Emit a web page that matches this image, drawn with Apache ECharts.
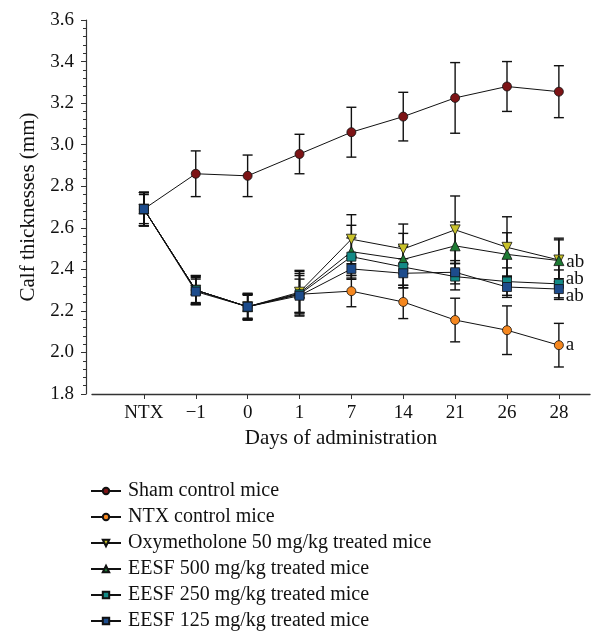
<!DOCTYPE html>
<html>
<head>
<meta charset="utf-8">
<script src="https://cdn.jsdelivr.net/npm/echarts@6/dist/echarts.min.js"></script>
<style>html,body{margin:0;padding:0;background:#fff}#c{width:610px;height:633px}</style>
</head>
<body>
<div id="c"></div>
<script>
const categories = ['NTX', '\u22121', '0', '1', '7', '14', '21', '26', '28'];
const yTicks = [1.8, 2.0, 2.2, 2.4, 2.6, 2.8, 3.0, 3.2, 3.4, 3.6];

const seriesNames = ['Sham control mice', 'NTX control mice', 'Oxymetholone 50 mg/kg treated mice',
  'EESF 500 mg/kg treated mice', 'EESF 250 mg/kg treated mice', 'EESF 125 mg/kg treated mice'];

const sham    = [2.69, 2.86, 2.85, 2.955, 3.06, 3.135, 3.225, 3.28, 3.255];
const shamErr = [0.08, 0.11, 0.10, 0.095, 0.12, 0.117, 0.17, 0.12, 0.125];
const ntx     = [2.69, 2.30, 2.22, 2.28, 2.295, 2.243, 2.156, 2.107, 2.035];
const ntxErr  = [0.08, 0.07, 0.06, 0.09, 0.075, 0.08, 0.105, 0.117, 0.105];
const oxy     = [2.69, 2.30, 2.22, 2.29, 2.545, 2.498, 2.59, 2.506, 2.445];
const oxyErr  = [0.08, 0.07, 0.065, 0.10, 0.118, 0.12, 0.163, 0.147, 0.105];
const e500    = [2.69, 2.30, 2.22, 2.285, 2.485, 2.448, 2.513, 2.472, 2.442];
const e500Err = [0.08, 0.065, 0.06, 0.11, 0.127, 0.125, 0.115, 0.104, 0.10];
const e250    = [2.69, 2.30, 2.22, 2.28, 2.461, 2.411, 2.365, 2.341, 2.33];
const e250Err = [0.08, 0.06, 0.06, 0.10, 0.09, 0.10, 0.064, 0.066, 0.067];
const e125    = [2.69, 2.293, 2.22, 2.273, 2.402, 2.381, 2.386, 2.315, 2.305];
const e125Err = [0.07, 0.06, 0.055, 0.08, 0.05, 0.07, 0.056, 0.05, 0.05];

// significance annotations at the last time point
const annotTexts = ['a', 'ab', 'ab', 'ab'];       // for ntx, e500, e250, e125
const annotSeries = [1, 3, 4, 5];

const values = [sham, ntx, oxy, e500, e250, e125];
const errors = [shamErr, ntxErr, oxyErr, e500Err, e250Err, e125Err];
const colors = ['#7d1416', '#f5871f', '#c9c22b', '#1e7a34', '#138a86', '#1d4c8c'];
const symbols = ['circle', 'circle', 'triangle', 'triangle', 'rect', 'rect'];
const symbolRot = [0, 0, 180, 0, 0, 0];
const symbolSizes = [9, 9, 10, 10, 9, 9];
const annotOffsets = {1: [0, 0], 3: [0, 1], 4: [0, -5], 5: [0, 7]};

const FONT = 'Liberation Serif';
const chart = echarts.init(document.getElementById('c'));

const series = [];
values.forEach((vals, si) => {
  series.push({
    type: 'custom',
    name: 'err' + si,
    z: 2,
    silent: true,
    renderItem: (params, api) => {
      const x = api.value(0);
      const lo = api.coord([x, api.value(1)]);
      const hi = api.coord([x, api.value(2)]);
      const w = 5;
      const st = {stroke: '#111', lineWidth: 1.4};
      return {type: 'group', children: [
        {type: 'line', shape: {x1: lo[0], y1: lo[1], x2: hi[0], y2: hi[1]}, style: st},
        {type: 'line', shape: {x1: lo[0]-w, y1: lo[1], x2: lo[0]+w, y2: lo[1]}, style: st},
        {type: 'line', shape: {x1: hi[0]-w, y1: hi[1], x2: hi[0]+w, y2: hi[1]}, style: st}
      ]};
    },
    data: vals.map((v, i) => [i, v - errors[si][i], v + errors[si][i]])
  });
});
values.forEach((vals, si) => {
  const ai = annotSeries.indexOf(si);
  series.push({
    type: 'line',
    name: seriesNames[si],
    z: 3 + si,
    symbol: symbols[si],
    symbolRotate: symbolRot[si],
    symbolSize: symbolSizes[si],
    lineStyle: {color: '#111', width: 1},
    itemStyle: {color: colors[si], borderColor: '#111', borderWidth: 0.8},
    data: vals.map((v, i) => {
      if (ai >= 0 && i === vals.length - 1) {
        return {value: [i, v], label: {show: true, position: 'right', distance: 2,
          offset: annotOffsets[si], formatter: annotTexts[ai],
          fontFamily: FONT, fontSize: 19, color: '#111'}};
      }
      return [i, v];
    })
  });
});

chart.setOption({
  animation: false,
  backgroundColor: '#fff',
  grid: {left: 92, right: 20, top: 20, bottom: 239},
  xAxis: {
    type: 'value', min: -1, max: 8.6,
    name: 'Days of administration', nameLocation: 'middle', nameGap: 31,
    nameTextStyle: {fontFamily: FONT, fontSize: 21, color: '#111'},
    axisLine: {onZero: false, lineStyle: {color: '#333', width: 1.4}},
    axisTick: {show: true, length: 5, customValues: [0,1,2,3,4,5,6,7,8], lineStyle: {color: '#333'}},
    axisLabel: {customValues: [0,1,2,3,4,5,6,7,8], margin: 10,
      formatter: v => categories[Math.round(v)] || '',
      fontFamily: FONT, fontSize: 19, color: '#111'},
    splitLine: {show: false}
  },
  yAxis: {
    type: 'value', min: yTicks[0], max: yTicks[yTicks.length-1], interval: 0.2,
    offset: 6,
    name: 'Calf thicknesses (mm)', nameLocation: 'middle', nameGap: 36,
    nameTextStyle: {fontFamily: FONT, fontSize: 21, color: '#111'},
    axisLine: {show: true, onZero: false, lineStyle: {color: '#333', width: 1.2}},
    axisTick: {show: true, length: 5, lineStyle: {color: '#333'}},
    minorTick: {show: true, splitNumber: 5, length: 3, lineStyle: {color: '#333'}},
    axisLabel: {margin: 12, formatter: v => v.toFixed(1), fontFamily: FONT, fontSize: 19, color: '#111'},
    splitLine: {show: false}
  },
  legend: {
    orient: 'vertical', left: 90, top: 480, height: 153, padding: 0,
    data: seriesNames,
    itemWidth: 30, itemHeight: 8, itemGap: 4,
    textStyle: {fontFamily: FONT, fontSize: 20, color: '#111', lineHeight: 22, padding: [0, 0, 0, 2]},
    selectedMode: false
  },
  series: series
});
</script>
</body>
</html>
